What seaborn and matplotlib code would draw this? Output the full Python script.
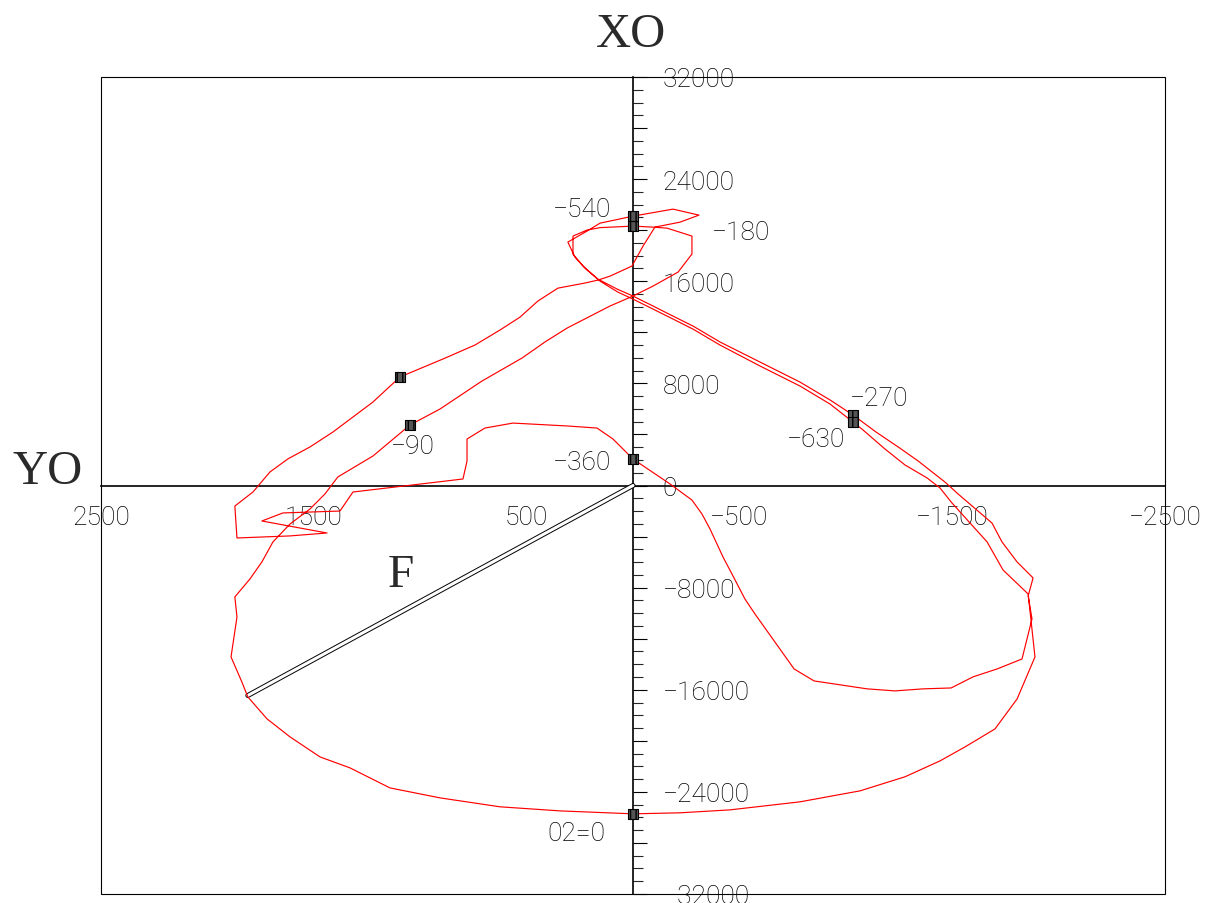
import matplotlib
matplotlib.use("Agg")
import matplotlib.pyplot as plt
from matplotlib.ticker import MultipleLocator, FuncFormatter
from matplotlib.patches import Rectangle
import pandas as pd
import seaborn as sns

# Bearing load polar diagram: horizontal component YO and vertical component XO
# over one 720-degree cycle, listed in crank-angle order starting at 0.
yo_load = [
    # 0 -> -90
    0, 343, 625, 907, 1142, 1330, 1471, 1612, 1720, 1810, 1838, 1889, 1861, 1871,
    1800, 1744, 1692, 1612, 1518, 1448, 1387, 1222, 1048,
    # -90 -> -180
    907, 710, 522, 414, 310, 108, 0, -94, -212, -277, -277, -160, -94, 0,
    # -180 -> -270
    155, 216, 282, 282, 235, 165, 75, 0, -94, -188, -282, -409, -597, -785, -926, -1034,
    # -270 -> -360
    -1142, -1246, -1340, -1466, -1528, -1687, -1734, -1805, -1880, -1857, -1875,
    -1828, -1711, -1598, -1495, -1363, -1231, -1100, -851, -757, -573, -526, -470,
    -423, -362, -324, -277, -174, 0,
    # -360 -> -450
    94, 169, 306, 564, 696, 780, 780, 799, 1316, 1377, 1518, 1645, 1744, 1438, 1612,
    1861, 1871, 1786, 1706, 1622, 1518, 1410, 1222, 1095,
    # -450 -> -540
    893, 743, 625, 531, 447, 353, 226, 165, 108, 5, -47, -103, -221, -310, -188, 0,
    # -540 -> -630
    155, 216, 306, 273, 221, 155, 71, 0, -94, -188, -282, -409, -597, -785, -926, -1034,
    # -630 -> -720
    -1076, -1184, -1278, -1382, -1443, -1499, -1664, -1739, -1857, -1889, -1805,
    -1701, -1560, -1443, -1278, -1067, -785, -456, -221, 0,
]
xo_load = [
    # 0 -> -90
    -25720, -25490, -25170, -24470, -23690, -22120, -21260, -19690, -18280, -16560,
    -15390, -13430, -10300, -8730, -7320, -5990, -4420, -3020, -1840, -670, 670,
    2310, 4740,
    # -90 -> -180
    5990, 8180, 9980, 11240, 12330, 14060, 14840, 15620, 16720, 18130, 19540, 20160,
    20240, 20320,
    # -180 -> -270
    20200, 20010, 19540, 18130, 17190, 16170, 15390, 14840, 14060, 13270, 12490,
    11240, 9670, 8100, 6700, 5520,
    # -270 -> -360
    4190, 3020, 1920, 270, -670, -2940, -4420, -5990, -7240, -8650, -10450, -13590,
    -14370, -14990, -15860, -15930, -16090, -15930, -15310, -14370, -10060, -8890,
    -7090, -5600, -3410, -2230, -1140, 120, 2075,
    # -360 -> -450
    3640, 4500, 4660, 4890, 4500, 3640, 1920, 510, -510, -2000, -2080, -2150, -2780,
    -3720, -3950, -4110, -1610, -510, 1060, 2080, 3020, 4190, 6540, 8500,
    # -450 -> -540
    9910, 11000, 12180, 13190, 14450, 15460, 15860, 16090, 16400, 17190, 18750,
    20240, 20630, 21180, 21650, 21100,
    # -540 -> -630
    20550, 19930, 19070, 17890, 16950, 16010, 15150, 14600, 13820, 13040, 12250,
    11000, 9360, 7790, 6380, 4970,
    # -630 -> -720
    4420, 2860, 1610, 590, -200, -1370, -4420, -6620, -8500, -13430, -16720, -19070,
    -20480, -21570, -22820, -23920, -24780, -25410, -25640, -25720,
]

# Crank-angle marks along the trace
mark_angle = [0, -90, -180, -270, -360, -450, -540, -630]
mark_yo = [0, 1048, 0, -1034, 0, 1095, 0, -1034]
mark_xo = [-25720, 4740, 20320, 5520, 2075, 8500, 21100, 4970]
mark_text = ["02=0", "\u221290", "\u2212180", "\u2212270", "\u2212360", "", "\u2212540", "\u2212630"]

# Resultant force vector F
force_yo = [0, 1810]
force_xo = [0, -16450]

x_label_values = [2500, 1500, 500, -500, -1500, -2500]
y_label_values = [32000, 24000, 16000, 8000, 0, -8000, -16000, -24000, -32000]

sns.set_style("white")
plt.rcParams["font.family"] = ["Roboto", "DejaVu Sans"]
plt.rcParams["font.weight"] = "light"
plt.rcParams["axes.unicode_minus"] = True

fig = plt.figure(figsize=(12.15, 9.04), dpi=100)
ax = fig.add_axes([101 / 1215, 9 / 904, 1064 / 1215, 817 / 904])

trace = pd.DataFrame({"YO": yo_load, "XO": xo_load, "step": range(len(yo_load))})
marks = pd.DataFrame({"YO": mark_yo, "XO": mark_xo, "angle": mark_angle, "text": mark_text})
force = pd.DataFrame({"YO": force_yo, "XO": force_xo})

# force vector drawn as a double line
sns.lineplot(data=force, x="YO", y="XO", sort=False, estimator=None, color="black",
             lw=3.6, ax=ax, zorder=3, legend=False)
sns.lineplot(data=force, x="YO", y="XO", sort=False, estimator=None, color="white",
             lw=2.2, ax=ax, zorder=3.1, legend=False)

sns.lineplot(data=trace, x="YO", y="XO", sort=False, estimator=None, color="#ff0000",
             lw=0.85, ax=ax, zorder=4, legend=False)

sns.scatterplot(data=marks, x="YO", y="XO", marker="s", s=50, color="#555555",
                edgecolor="black", linewidth=0.8, ax=ax, zorder=5, legend=False)
ax.collections[-1].set_hatch("|||")

label_offsets = {0: (-20, -14, "right"), -90: (-14, -15, "left"), -180: (57, -4, "left"),
                 -270: (-2, 12, "left"), -360: (-16, -2, "right"), -540: (-16, 5, "right"),
                 -630: (-6, -12, "right")}
for _, r in marks.iterrows():
    if not r["text"]:
        continue
    dx, dy, ha = label_offsets[r["angle"]]
    ax.annotate(r["text"], (r["YO"], r["XO"]), xytext=(dx, dy), textcoords="offset points",
                ha=ha, va="center", fontsize=19, color="black", zorder=6)

ax.set_xlim(2500, -2500)
ax.set_ylim(-32000, 32000)
ax.set_xlabel("")
ax.set_ylabel("")

# centred axes
ax.spines["left"].set_visible(False)
ax.spines["top"].set_visible(False)
ax.spines["right"].set_position(("data", 0))
ax.spines["bottom"].set_position(("data", 0))
for s in ("right", "bottom"):
    ax.spines[s].set_linewidth(1.2)
    ax.spines[s].set_color("black")
    ax.spines[s].set_zorder(2)

ax.add_patch(Rectangle((0, 0), 1, 1, transform=ax.transAxes, fill=False,
                       ec="black", lw=0.8, clip_on=False, zorder=1))

ax.xaxis.set_major_locator(MultipleLocator(500))
ax.xaxis.set_minor_locator(MultipleLocator(100))
ax.yaxis.set_major_locator(MultipleLocator(4000))
ax.yaxis.set_minor_locator(MultipleLocator(1000))
ax.yaxis.set_ticks_position("right")


def fmt_x(v, _):
    iv = int(round(v))
    return f"{iv}".replace("-", "\u2212") if iv in x_label_values else ""


def fmt_y(v, _):
    iv = int(round(v))
    return f"{iv}".replace("-", "\u2212") if iv in y_label_values else ""


ax.xaxis.set_major_formatter(FuncFormatter(fmt_x))
ax.yaxis.set_major_formatter(FuncFormatter(fmt_y))

ax.tick_params(axis="x", which="major", direction="out", length=5.8, width=0.8,
               pad=8, labelsize=19, colors="black")
ax.tick_params(axis="x", which="minor", direction="out", length=4.3, width=0.8)
ax.tick_params(axis="y", which="major", direction="out", length=10, width=0.8,
               pad=11.5, labelsize=19, colors="black", right=True, left=False,
               labelright=True, labelleft=False)
ax.tick_params(axis="y", which="minor", direction="out", length=7, width=0.8,
               right=True, left=False)
for t in ax.get_yticklabels():
    t.set_horizontalalignment("left")

serif = ["Liberation Serif", "DejaVu Serif"]
fig.text(631 / 1215, 1 - 35 / 904, "XO", ha="center", va="center", fontsize=35,
         family=serif, weight="normal", color="#2a2a2a")
fig.text(48 / 1215, 1 - 472 / 904, "YO", ha="center", va="center", fontsize=35,
         family=serif, weight="normal", color="#2a2a2a")
ax.text(1090, -7000, "F", ha="center", va="center", fontsize=34, family=serif,
        weight="normal", color="#2a2a2a")

fig.savefig("out.png", dpi=100)
